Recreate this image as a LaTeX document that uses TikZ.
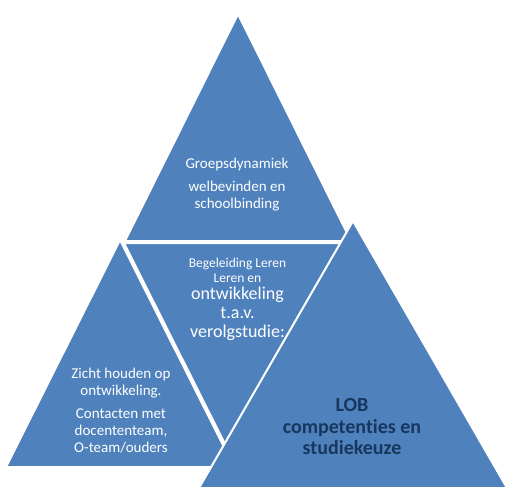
\documentclass[tikz,border=0pt]{standalone}
\usepackage{fontspec}
\setmainfont{Carlito}[Ligatures=NoCommon]
\definecolor{triblue}{HTML}{4F81BD}
\definecolor{navytext}{HTML}{17375E}
\begin{document}
\begin{tikzpicture}[x=1pt,y=-1pt,
  tri/.style={fill=triblue,draw=white,line width=2pt,line join=miter},
  lbl/.style={align=center,inner sep=0pt,text=white}]
\useasboundingbox (0,0) rectangle (508,488);
\clip (0,0) rectangle (508,488);
% top triangle
\draw[tri] (238,14) -- (125,241) -- (351,241) -- cycle;
% bottom-left triangle
\draw[tri] (120,240) -- (6,467) -- (234,467) -- cycle;
% middle inverted triangle
\draw[tri] (124,243) -- (350,243) -- (237,468) -- cycle;
% bottom-right triangle
\draw[tri] (353,221) -- (199,488) -- (507,488) -- cycle;

\node[lbl,font=\fontsize{15}{17}\selectfont] (top) at (237,185)
  {Groepsdynamiek\\[6pt]welbevinden en\\schoolbinding};
\node[lbl,font=\fontsize{13.5}{15}\selectfont] (mid1) at (237.5,270)
  {Begeleiding Leren\\Leren en};
\node[lbl,font=\fontsize{18}{19}\selectfont] (mid2) at (237.5,314)
  {ontwikkeling\\t.a.v.\\verolgstudie:};
\node[lbl,font=\fontsize{15}{17}\selectfont] (left) at (121,411)
  {Zicht houden op\\ontwikkeling.\\[6pt]Contacten met\\docententeam,\\O-team/ouders};
\node[lbl,text=navytext,font=\bfseries\fontsize{20}{21.5}\selectfont] (right) at (352,427)
  {LOB\\competenties en\\studiekeuze};
\end{tikzpicture}
\end{document}
